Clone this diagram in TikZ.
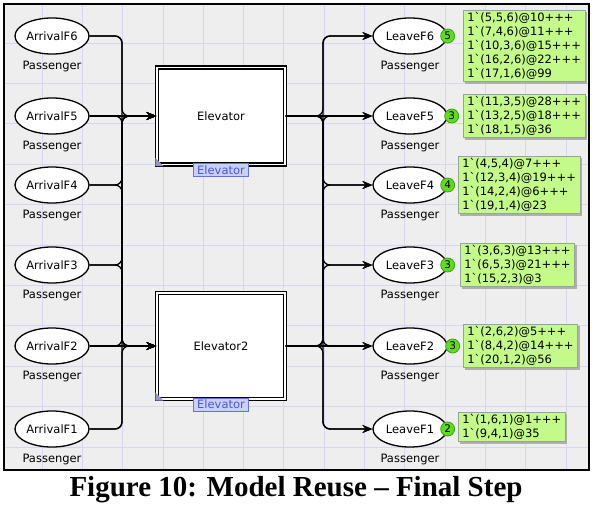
\documentclass[tikz,border=0pt]{standalone}
\usepackage{fontspec}
\setmainfont{DejaVu Sans}[Ligatures=TeXOff]
\newfontfamily\capfont{Liberation Serif}
\usepackage{tikz}
\usetikzlibrary{arrows.meta, positioning, shapes.geometric, shadows}

\definecolor{netbg}{RGB}{238,238,238}
\definecolor{netgrid}{RGB}{214,214,240}
\definecolor{markfill}{RGB}{196,250,138}
\definecolor{markedge}{RGB}{150,165,150}
\definecolor{markshadow}{RGB}{175,175,175}
\definecolor{tokfill}{RGB}{98,218,32}
\definecolor{tokedge}{RGB}{60,160,20}
\definecolor{tagfill}{RGB}{202,208,250}
\definecolor{tagedge}{RGB}{95,115,220}
\definecolor{tagtext}{RGB}{70,90,210}
\definecolor{cornermark}{RGB}{150,150,205}

\begin{document}
\begin{tikzpicture}[
  x=1pt, y=-1pt,
  place/.style={draw, ellipse, fill=white, line width=1.3pt, minimum width=74pt,
    minimum height=36pt, inner sep=0pt, font=\fontsize{11.5}{13}\selectfont},
  ptype/.style={inner sep=0pt, font=\fontsize{11.5}{13}\selectfont},
  trans/.style={draw, double=white, double distance=1.8pt, line width=1.2pt,
    fill=white, minimum width=128pt, font=\fontsize{11.5}{13}\selectfont},
  subtag/.style={draw=tagedge, fill=tagfill, text=tagtext, inner xsep=3.5pt,
    inner ysep=0pt, minimum height=13pt, font=\fontsize{11.5}{13}\selectfont},
  token/.style={circle, draw=tokedge, fill=tokfill, line width=0.8pt,
    minimum size=14pt, inner sep=0pt, font=\fontsize{10.5}{12}\selectfont},
  marking/.style={draw=markedge, fill=markfill, align=left, inner xsep=4pt,
    inner ysep=2pt, font=\fontsize{11.5}{14}\selectfont,
    drop shadow={shadow xshift=2pt, shadow yshift=-2pt, fill=markshadow, opacity=1}},
  arc/.style={line width=1.3pt, rounded corners=7pt,
    -{Stealth[length=10pt, width=8pt, inset=3.5pt]}},
  gridline/.style={netgrid, line width=0.8pt}
]
\useasboundingbox (0,0) rectangle (596,506);
\fill[netbg] (4,4) rectangle (589,470);
\foreach \i in {0,...,13} \draw[gridline] ({42+40.3*\i},4) -- ({42+40.3*\i},470);
\foreach \j in {0,...,10} \draw[gridline] (4,{43+40.4*\j}) -- (589,{43+40.4*\j});
\draw[line width=2pt] (4,4) rectangle (589,470);

% arrival places
\node[place] (ArrivalF6) at (52,36) {ArrivalF6};
\node[place] (ArrivalF5) at (52,116) {ArrivalF5};
\node[place] (ArrivalF4) at (52,185) {ArrivalF4};
\node[place] (ArrivalF3) at (52,265) {ArrivalF3};
\node[place] (ArrivalF2) at (52,346) {ArrivalF2};
\node[place] (ArrivalF1) at (52,429) {ArrivalF1};
\node[ptype, below=6pt of ArrivalF6] (tyA6) {Passenger};
\node[ptype, below=6pt of ArrivalF5] (tyA5) {Passenger};
\node[ptype, below=6pt of ArrivalF4] (tyA4) {Passenger};
\node[ptype, below=6pt of ArrivalF3] (tyA3) {Passenger};
\node[ptype, below=6pt of ArrivalF2] (tyA2) {Passenger};
\node[ptype, below=6pt of ArrivalF1] (tyA1) {Passenger};

% elevator transitions
\node[trans, minimum height=97pt] (Elevator) at (221,116) {Elevator};
\node[trans, minimum height=106pt] (Elevator2) at (221,346) {Elevator2};
\node[subtag, anchor=north] (tagE) at ([yshift=2pt]Elevator.south) {Elevator};
\node[subtag, anchor=north] (tagE2) at ([yshift=2pt]Elevator2.south) {Elevator};
\fill[cornermark] ([xshift=-1pt,yshift=-1pt]Elevator.south west) -- ++(8,0) -- ++(-8,-8) -- cycle;
\fill[cornermark] ([xshift=-1pt,yshift=-1pt]Elevator2.south west) -- ++(8,0) -- ++(-8,-8) -- cycle;

% leave places
\node[place] (LeaveF6) at (410,36) {LeaveF6};
\node[place] (LeaveF5) at (410,116) {LeaveF5};
\node[place] (LeaveF4) at (410,185) {LeaveF4};
\node[place] (LeaveF3) at (410,265) {LeaveF3};
\node[place] (LeaveF2) at (410,346) {LeaveF2};
\node[place] (LeaveF1) at (410,429) {LeaveF1};
\node[ptype, below=6pt of LeaveF6] (tyL6) {Passenger};
\node[ptype, below=6pt of LeaveF5] (tyL5) {Passenger};
\node[ptype, below=6pt of LeaveF4] (tyL4) {Passenger};
\node[ptype, below=6pt of LeaveF3] (tyL3) {Passenger};
\node[ptype, below=6pt of LeaveF2] (tyL2) {Passenger};
\node[ptype, below=6pt of LeaveF1] (tyL1) {Passenger};

% token counts and markings
\node[token] (TokF6) at (LeaveF6.east) {5};
\node[token, xshift=4pt] (TokF5) at (LeaveF5.east) {3};
\node[token] (TokF4) at (LeaveF4.east) {4};
\node[token] (TokF3) at (LeaveF3.east) {3};
\node[token, xshift=5pt] (TokF2) at (LeaveF2.east) {3};
\node[token] (TokF1) at (LeaveF1.east) {2};
\node[marking, right=8pt of TokF6, yshift=-10pt] (MarkF6)
  {1`(5,5,6)@10+++\\1`(7,4,6)@11+++\\1`(10,3,6)@15+++\\1`(16,2,6)@22+++\\1`(17,1,6)@99};
\node[marking, right=4pt of TokF5] (MarkF5)
  {1`(11,3,5)@28+++\\1`(13,2,5)@18+++\\1`(18,1,5)@36};
\node[marking, right=3pt of TokF4] (MarkF4)
  {1`(4,5,4)@7+++\\1`(12,3,4)@19+++\\1`(14,2,4)@6+++\\1`(19,1,4)@23};
\node[marking, right=5pt of TokF3] (MarkF3)
  {1`(3,6,3)@13+++\\1`(6,5,3)@21+++\\1`(15,2,3)@3};
\node[marking, right=3pt of TokF2] (MarkF2)
  {1`(2,6,2)@5+++\\1`(8,4,2)@14+++\\1`(20,1,2)@56};
\node[marking, right=3pt of TokF1, yshift=2pt] (MarkF1)
  {1`(1,6,1)@1+++\\1`(9,4,1)@35};

% arcs
\coordinate (inE) at (122,116);
\coordinate (inE2) at (122,346);
\coordinate (outE) at (323,116);
\coordinate (outE2) at (323,346);
\foreach \f in {6,4,3,2,1} \draw[arc] (ArrivalF\f.east) -| (inE) -- (Elevator.west);
\foreach \f in {6,5,4,3,1} \draw[arc] (ArrivalF\f.east) -| (inE2) -- (Elevator2.west);
\draw[arc] (ArrivalF5.east) -- (Elevator.west);
\draw[arc] (ArrivalF2.east) -- (Elevator2.west);
\foreach \f in {6,4,3,2,1} \draw[arc] (Elevator.east) -- (outE) |- (LeaveF\f.west);
\foreach \f in {6,5,4,3,1} \draw[arc] (Elevator2.east) -- (outE2) |- (LeaveF\f.west);
\draw[arc] (Elevator.east) -- (LeaveF5.west);
\draw[arc] (Elevator2.east) -- (LeaveF2.west);

\node[font=\capfont\bfseries\fontsize{29}{32}\selectfont] (caption) at (296,490)
  {Figure 10: Model Reuse – Final Step};
\end{tikzpicture}
\end{document}
